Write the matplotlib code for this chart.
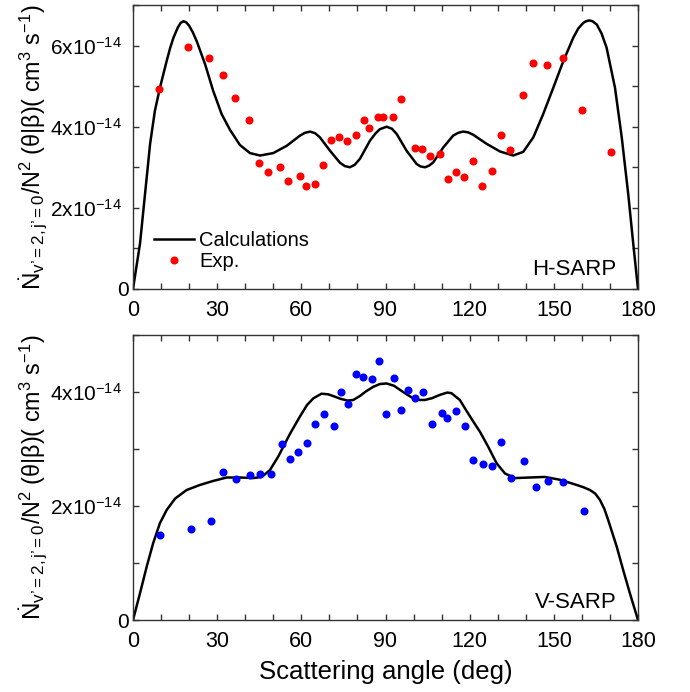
import matplotlib
matplotlib.use("Agg")
import matplotlib.pyplot as plt
from matplotlib.ticker import MultipleLocator, FuncFormatter

plt.rcParams['font.family'] = ['Liberation Sans', 'DejaVu Sans']
plt.rcParams['mathtext.fontset'] = 'custom'
plt.rcParams['mathtext.rm'] = 'Liberation Sans'
plt.rcParams['mathtext.it'] = 'Liberation Sans:italic'
plt.rcParams['mathtext.bf'] = 'Liberation Sans:bold'
plt.rcParams['mathtext.sf'] = 'Liberation Sans'

# ---------------- data (values in units of 1e-14 cm^3 s^-1) ----------------
h_calc_x = [0, 2.5, 4.3, 6.1, 7.8, 9.6, 12.0, 13.2, 14.4, 16.0, 17.0, 18.0, 19.0, 20.0,
            21.3, 22.7, 25.7, 28.6, 31.6, 34.6, 38.1, 41.7, 45.3, 50.0, 54.8, 59.5,
            61.3, 63.1, 64.9, 66.6, 70.2, 73.8, 75.5, 77.3, 79.0, 80.9, 84.5, 86.5,
            88.0, 90.4, 92.3, 94.0, 97.5, 101.1, 102.5, 104.1, 105.5, 107.0, 110.6,
            114.1, 115.9, 117.7, 119.5, 121.3, 126.0, 130.8, 135.5, 139.1, 142.7,
            146.2, 149.8, 153.4, 156.9, 158.7, 160.5, 161.5, 162.6, 163.8, 165.3,
            167.0, 168.8, 171.8, 174.2, 176.5, 178.3, 180]
h_calc_y = [0, 1.12, 2.35, 3.58, 4.39, 4.96, 5.62, 5.93, 6.19, 6.45, 6.56, 6.60, 6.57, 6.49,
            6.33, 6.11, 5.54, 4.88, 4.31, 3.92, 3.55, 3.35, 3.29, 3.35, 3.53, 3.78,
            3.85, 3.88, 3.84, 3.74, 3.41, 3.11, 3.03, 3.00, 3.06, 3.21, 3.66, 3.84,
            3.94, 4.00, 3.95, 3.82, 3.41, 3.08, 3.02, 3.00, 3.04, 3.12, 3.49,
            3.78, 3.85, 3.88, 3.86, 3.80, 3.58, 3.39, 3.29, 3.38, 3.74,
            4.31, 4.96, 5.62, 6.19, 6.42, 6.56, 6.60, 6.62, 6.60, 6.52,
            6.30, 5.95, 4.96, 3.74, 2.35, 1.12, 0]

h_exp_x = [9.4, 19.5, 27.2, 32.2, 36.5, 41.2, 44.8, 48.2, 52.3, 55.2, 59.5, 61.7, 65.0,
           67.8, 70.4, 73.5, 76.2, 79.4, 82.3, 84.0, 87.3, 89.1, 92.5, 95.6, 100.6,
           103.0, 106.0, 109.4, 112.1, 115.0, 118.1, 121.3, 124.4, 127.8, 131.1,
           134.4, 138.9, 142.4, 147.7, 153.4, 159.9, 170.2]
h_exp_y = [4.94, 5.96, 5.70, 5.28, 4.70, 4.17, 3.11, 2.89, 3.01, 2.65, 2.78, 2.55, 2.58,
           3.05, 3.68, 3.75, 3.66, 3.79, 4.16, 3.96, 4.23, 4.23, 4.23, 4.68, 3.48,
           3.44, 3.27, 3.33, 2.70, 2.88, 2.76, 3.16, 2.55, 2.90, 3.80,
           3.43, 4.77, 5.57, 5.52, 5.69, 4.42, 3.37]

v_calc_x = [0, 2.5, 4.9, 7.2, 9.6, 12.0, 15.0, 19.1, 23.9, 28.6, 33.4, 38.1, 42.9, 45.9,
            48.8, 51.8, 54.2, 56.0, 59.5, 62.0, 64.3, 67.2, 69.5, 71.3, 74.0, 76.5,
            78.5, 80.9, 83.0, 85.6, 88.0, 90.4, 93.0, 95.1, 97.5, 99.9, 102.0, 104.0,
            106.5, 109.4, 112.0, 113.5, 116.5, 119.0, 121.3, 123.7, 126.6, 129.6,
            132.6, 136.1, 141.5, 146.8, 152.2, 158.1, 160.5, 162.9, 164.7, 166.4,
            168.0, 169.4, 172.4, 174.7, 177.1, 180]
v_calc_y = [0, 0.47, 0.94, 1.35, 1.70, 1.93, 2.13, 2.28, 2.37, 2.44, 2.50, 2.50, 2.49, 2.51,
            2.63, 2.87, 3.10, 3.27, 3.57, 3.77, 3.89, 3.97, 3.96, 3.93, 3.88, 3.85,
            3.86, 3.93, 4.01, 4.09, 4.14, 4.15, 4.11, 4.04, 3.96, 3.89, 3.86, 3.86,
            3.89, 3.95, 3.99, 3.98, 3.86, 3.66, 3.48, 3.30, 3.04, 2.75,
            2.57, 2.49, 2.50, 2.51, 2.46, 2.37, 2.33, 2.28, 2.22, 2.11,
            1.95, 1.75, 1.29, 0.88, 0.47, 0]

v_exp_x = [9.7, 20.5, 27.7, 32.2, 36.8, 41.6, 45.1, 49.1, 53.0, 56.0, 58.9, 62.1, 65.0,
           68.2, 71.6, 74.1, 76.7, 79.4, 81.9, 85.1, 87.7, 90.3, 92.9, 95.5, 98.1,
           100.5, 103.5, 106.6, 110.0, 112.0, 115.2, 118.3, 121.3, 124.7, 127.8,
           131.3, 134.8, 139.2, 143.7, 147.9, 153.4, 160.7]
v_exp_y = [1.49, 1.60, 1.74, 2.60, 2.47, 2.55, 2.56, 2.57, 3.08, 2.82, 2.94, 3.11, 3.44,
           3.61, 3.40, 4.00, 3.79, 4.32, 4.26, 4.22, 4.55, 3.61, 4.25, 3.69, 4.04,
           3.90, 4.00, 3.44, 3.63, 3.54, 3.67, 3.41, 2.81, 2.74, 2.71,
           3.13, 2.50, 2.79, 2.33, 2.43, 2.42, 1.91]

x_ticks = [0, 30, 60, 90, 120, 150, 180]
xlabel = "Scattering angle (deg)"
legend_labels = ["Calculations", "Exp."]
panel_labels = ["H-SARP", "V-SARP"]

# ---------------- figure ----------------
W, H = 690, 692
fig = plt.figure(figsize=(W / 100, H / 100), dpi=100)
ax1 = fig.add_axes([133 / W, 1 - 289 / H, 505 / W, 284 / H])
ax2 = fig.add_axes([133 / W, 1 - 620 / H, 505 / W, 285 / H])


def ylab(v, pos):
    if abs(v) < 1e-9:
        return "0"
    return r"$%d\mathrm{x}10^{-14}$" % int(round(v)) + "  "


spine_col = "#333333"
for ax, ymax in ((ax1, 7), (ax2, 5)):
    ax.set_xlim(0, 180)
    ax.set_ylim(0, ymax)
    ax.set_xticks(x_ticks)
    ax.xaxis.set_minor_locator(MultipleLocator(10))
    ax.yaxis.set_major_locator(MultipleLocator(2))
    ax.yaxis.set_minor_locator(MultipleLocator(1))
    ax.yaxis.set_major_formatter(FuncFormatter(ylab))
    ax.tick_params(which="both", direction="in", top=True, right=True,
                   color=spine_col, width=1.0)
    ax.tick_params(which="major", length=4.5)
    ax.tick_params(which="minor", length=4)
    ax.tick_params(axis="x", labelsize=15.5, pad=8)
    ax.tick_params(axis="y", labelsize=15, pad=3)
    for s in ax.spines.values():
        s.set_color(spine_col)
        s.set_linewidth(1.0)

ax1.plot(h_calc_x, h_calc_y, color="black", lw=1.8, label=legend_labels[0], zorder=2)
ax1.plot(h_exp_x, h_exp_y, "o", color="#ff0000", ms=5.8, mec="none",
         label=legend_labels[1], zorder=3)
ax2.plot(v_calc_x, v_calc_y, color="black", lw=1.8, zorder=2)
ax2.plot(v_exp_x, v_exp_y, "o", color="#0000ff", ms=5.8, mec="none", zorder=3)

leg = ax1.legend(loc="lower left", bbox_to_anchor=(0.026, 0.035), frameon=False,
                 fontsize=14.5, handlelength=2.0, handletextpad=0.25,
                 labelspacing=0.12, numpoints=1, borderaxespad=0)

ax1.text(0.958, 0.049, panel_labels[0], transform=ax1.transAxes, ha="right",
         va="baseline", fontsize=16)
ax2.text(0.958, 0.042, panel_labels[1], transform=ax2.transAxes, ha="right",
         va="baseline", fontsize=16)

ax2.set_xlabel(xlabel, fontsize=18.5, labelpad=6)

# y labels (two pieces, rotated): start at panel bottom, end at panel top
yl1 = r"$\dot{\mathrm{N}}_{\mathrm{v’=2,j’=0}}$"
yl2 = r"/N$^2$ (θ|β)( cm$^3$ s$^{-1}$)"
for bot_px, top_px in ((290, 5), (620, 335)):
    fig.text(41 / W, 1 - bot_px / H, yl1, rotation=90, rotation_mode="anchor",
             ha="left", va="baseline", fontsize=17.5)
    fig.text(41 / W, 1 - top_px / H, yl2, rotation=90, rotation_mode="anchor",
             ha="right", va="baseline", fontsize=16.8)

fig.savefig("out.png", dpi=100)
